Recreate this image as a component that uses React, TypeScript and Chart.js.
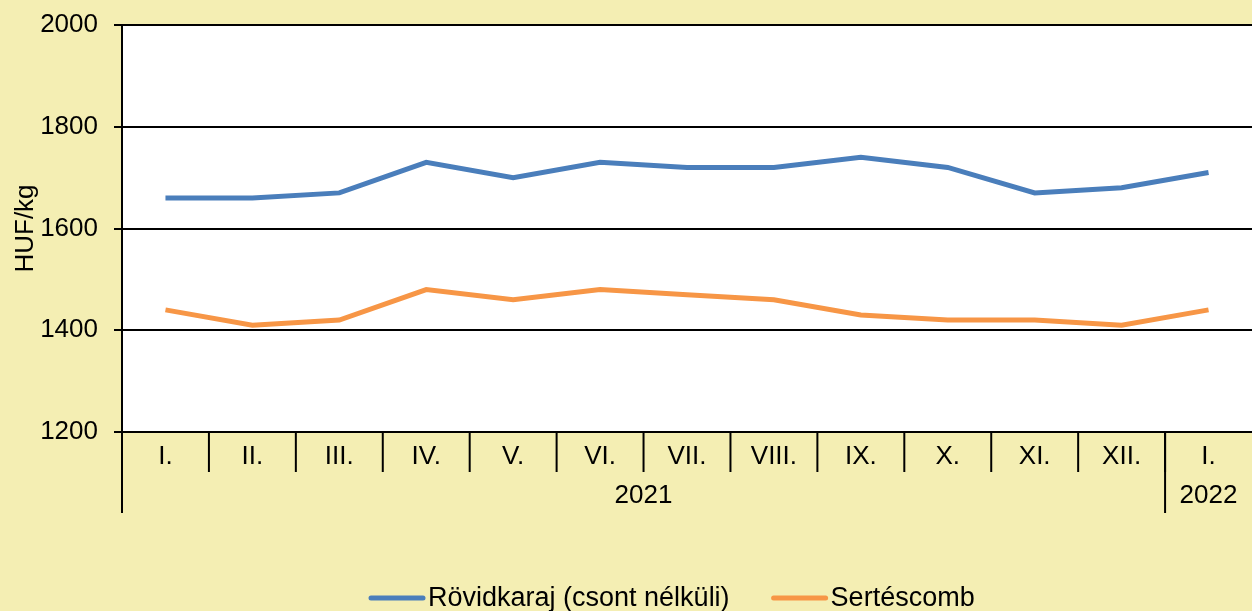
import React, { useEffect, useRef } from "react";
import { Chart, registerables } from "chart.js";

Chart.register(...registerables);

const months = ["I.", "II.", "III.", "IV.", "V.", "VI.", "VII.", "VIII.", "IX.", "X.", "XI.", "XII.", "I."];
const years = ["2021", "2022"];
const yearSpans = [12, 1];
const rovidkaraj = [1660, 1660, 1670, 1730, 1700, 1730, 1720, 1720, 1740, 1720, 1670, 1680, 1710];
const sertescomb = [1440, 1410, 1420, 1480, 1460, 1480, 1470, 1460, 1430, 1420, 1420, 1410, 1440];
const seriesNames = ["Rövidkaraj (csont nélküli)", "Sertéscomb"];
const yTitle = "HUF/kg";

const BG = "#F4EEB3";
const FONT = "'Liberation Sans', Arial, sans-serif";
const FS = 26;
const LFS = 27;

const bgPlugin = {
  id: "bgPlugin",
  beforeDraw(chart: any) {
    const { ctx, chartArea } = chart;
    ctx.save();
    ctx.fillStyle = BG;
    ctx.fillRect(0, 0, chart.width, chart.height);
    ctx.fillStyle = "#FFFFFF";
    ctx.fillRect(chartArea.left, chartArea.top, chartArea.right - chartArea.left, chartArea.bottom - chartArea.top);
    ctx.restore();
  },
};

const axisPlugin = {
  id: "axisPlugin",
  afterDraw(chart: any) {
    const { ctx, chartArea } = chart;
    const x = chart.scales.x;
    const bottom = chartArea.bottom;
    const n = months.length;
    const half = (x.getPixelForValue(1) - x.getPixelForValue(0)) / 2;
    ctx.save();
    ctx.strokeStyle = "#000";
    ctx.lineWidth = 2;
    for (let i = 1; i < n; i++) {
      const px = x.getPixelForValue(i) - half;
      ctx.beginPath();
      ctx.moveTo(px, bottom);
      ctx.lineTo(px, bottom + 40);
      ctx.stroke();
    }
    let start = 0;
    ctx.fillStyle = "#000";
    ctx.font = `${FS}px ${FONT}`;
    ctx.textAlign = "center";
    ctx.textBaseline = "middle";
    for (let k = 0; k < years.length; k++) {
      const left = x.getPixelForValue(start) - half;
      const right = x.getPixelForValue(start + yearSpans[k] - 1) + half;
      ctx.beginPath();
      ctx.moveTo(left, bottom);
      ctx.lineTo(left, bottom + 81);
      ctx.stroke();
      ctx.fillText(years[k], (left + right) / 2, bottom + 64);
      start += yearSpans[k];
    }
    ctx.restore();

    // legend
    const colors = ["#4A7EBB", "#F79646"];
    const ly = 598;
    ctx.save();
    ctx.font = `${LFS}px ${FONT}`;
    ctx.textBaseline = "middle";
    ctx.textAlign = "left";
    const lineW = 56;
    const gapText = 3;
    const gapItem = 42;
    const widths = seriesNames.map((s) => ctx.measureText(s).width);
    let cx = 369;
    for (let i = 0; i < seriesNames.length; i++) {
      ctx.strokeStyle = colors[i];
      ctx.lineWidth = 5;
      ctx.lineCap = "round";
      ctx.beginPath();
      ctx.moveTo(cx + 2, ly);
      ctx.lineTo(cx + lineW - 2, ly);
      ctx.stroke();
      ctx.fillStyle = "#000";
      ctx.fillText(seriesNames[i], cx + lineW + gapText, ly + 1);
      cx += lineW + gapText + widths[i] + gapItem;
    }
    ctx.restore();
  },
};

export default function App() {
  const ref = useRef<HTMLCanvasElement | null>(null);
  useEffect(() => {
    document.body.style.margin = "0";
    const chart = new Chart(ref.current as HTMLCanvasElement, {
      type: "line",
      data: {
        labels: months,
        datasets: [
          {
            label: seriesNames[0],
            data: rovidkaraj,
            borderColor: "#4A7EBB",
            backgroundColor: "#4A7EBB",
            borderWidth: 5,
            pointRadius: 0,
            tension: 0,
          },
          {
            label: seriesNames[1],
            data: sertescomb,
            borderColor: "#F79646",
            backgroundColor: "#F79646",
            borderWidth: 5,
            pointRadius: 0,
            tension: 0,
          },
        ],
      },
      options: {
        animation: false,
        responsive: false,
        layout: { padding: { left: 0, right: 0, top: 25, bottom: 79 } },
        plugins: { legend: { display: false }, tooltip: { enabled: false } },
        scales: {
          x: {
            offset: true,
            grid: { display: false, offset: true, drawTicks: false },
            border: { display: true, color: "#000", width: 2 },
            ticks: {
              color: "#000",
              font: { family: FONT, size: FS },
              padding: 9,
              maxRotation: 0,
              autoSkip: false,
            },
            afterFit(scale: any) {
              scale.height = 100;
              scale.paddingLeft = 0;
              scale.paddingRight = 0;
            },
          },
          y: {
            min: 1200,
            max: 2000,
            ticks: {
              stepSize: 200,
              color: "#000",
              font: { family: FONT, size: FS },
              padding: 16,
              callback: (v: any) => String(v),
            },
            grid: { color: "#000", lineWidth: 2, tickLength: 8, drawTicks: true },
            border: { display: true, color: "#000", width: 2 },
            title: {
              display: true,
              text: yTitle,
              color: "#000",
              font: { family: FONT, size: FS },
              padding: { top: 10, bottom: 0 },
            },
            afterFit(scale: any) {
              scale.width = 122;
              scale.paddingTop = 0;
              scale.paddingBottom = 0;
            },
          },
        },
      },
      plugins: [bgPlugin, axisPlugin],
    });
    return () => chart.destroy();
  }, []);
  return (
    <div style={{ width: 1252, height: 611, background: BG }}>
      <canvas ref={ref} width={1252} height={611} style={{ display: "block" }} />
    </div>
  );
}
